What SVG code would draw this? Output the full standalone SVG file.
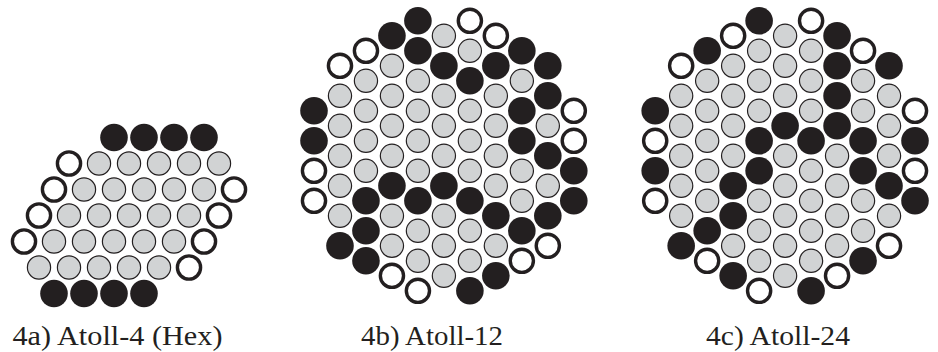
<svg xmlns="http://www.w3.org/2000/svg" xmlns:xlink="http://www.w3.org/1999/xlink" width="938" height="352" viewBox="0 0 938 352">
<style>
.b{fill:#231f20}
.g{fill:#d1d3d4;stroke:#231f20;stroke-width:1.2}
.h{fill:#ffffff;stroke:#231f20;stroke-width:3.4}
.lbl{font-family:"Liberation Serif","Times New Roman",serif;font-size:28px;fill:#231f20}
</style>
<defs>
<circle id="B" class="b" r="13.8"/>
<circle id="G" class="g" r="11.6"/>
<circle id="H" class="h" r="11.6"/>
</defs>
<rect width="938" height="352" fill="#ffffff"/>

<g id="atoll4">
<use href="#B" x="114" y="137.5"/><use href="#B" x="144" y="137.5"/><use href="#B" x="174" y="137.5"/><use href="#B" x="204" y="137.5"/>
<use href="#H" x="69" y="163.5"/><use href="#G" x="99" y="163.5"/><use href="#G" x="129" y="163.5"/><use href="#G" x="159" y="163.5"/><use href="#G" x="189" y="163.5"/><use href="#G" x="219" y="163.5"/>
<use href="#H" x="54" y="189.5"/><use href="#G" x="84" y="189.5"/><use href="#G" x="114" y="189.5"/><use href="#G" x="144" y="189.5"/><use href="#G" x="174" y="189.5"/><use href="#G" x="204" y="189.5"/><use href="#H" x="234" y="189.5"/>
<use href="#H" x="39" y="215.5"/><use href="#G" x="69" y="215.5"/><use href="#G" x="99" y="215.5"/><use href="#G" x="129" y="215.5"/><use href="#G" x="159" y="215.5"/><use href="#G" x="189" y="215.5"/><use href="#H" x="219" y="215.5"/>
<use href="#H" x="24" y="241.5"/><use href="#G" x="54" y="241.5"/><use href="#G" x="84" y="241.5"/><use href="#G" x="114" y="241.5"/><use href="#G" x="144" y="241.5"/><use href="#G" x="174" y="241.5"/><use href="#H" x="204" y="241.5"/>
<use href="#G" x="39" y="267.5"/><use href="#G" x="69" y="267.5"/><use href="#G" x="99" y="267.5"/><use href="#G" x="129" y="267.5"/><use href="#G" x="159" y="267.5"/><use href="#H" x="189" y="267.5"/>
<use href="#B" x="54" y="293.5"/><use href="#B" x="84" y="293.5"/><use href="#B" x="114" y="293.5"/><use href="#B" x="144" y="293.5"/>
</g>

<g id="atoll12" transform="translate(314 20.8)">
<use href="#B" x="0" y="90"/><use href="#B" x="0" y="120"/><use href="#H" x="0" y="150"/><use href="#H" x="0" y="180"/>
<use href="#H" x="25.98" y="45"/><use href="#G" x="25.98" y="75"/><use href="#G" x="25.98" y="105"/><use href="#G" x="25.98" y="135"/><use href="#G" x="25.98" y="165"/><use href="#G" x="25.98" y="195"/><use href="#B" x="25.98" y="225"/>
<use href="#H" x="51.96" y="30"/><use href="#G" x="51.96" y="60"/><use href="#G" x="51.96" y="90"/><use href="#G" x="51.96" y="120"/><use href="#G" x="51.96" y="150"/><use href="#B" x="51.96" y="180"/><use href="#B" x="51.96" y="210"/><use href="#B" x="51.96" y="240"/>
<use href="#B" x="77.94" y="15"/><use href="#G" x="77.94" y="45"/><use href="#G" x="77.94" y="75"/><use href="#G" x="77.94" y="105"/><use href="#G" x="77.94" y="135"/><use href="#B" x="77.94" y="165"/><use href="#G" x="77.94" y="195"/><use href="#G" x="77.94" y="225"/><use href="#H" x="77.94" y="255"/>
<use href="#B" x="103.92" y="0"/><use href="#B" x="103.92" y="30"/><use href="#G" x="103.92" y="60"/><use href="#G" x="103.92" y="90"/><use href="#G" x="103.92" y="120"/><use href="#G" x="103.92" y="150"/><use href="#B" x="103.92" y="180"/><use href="#G" x="103.92" y="210"/><use href="#G" x="103.92" y="240"/><use href="#H" x="103.92" y="270"/>
<use href="#G" x="129.9" y="15"/><use href="#B" x="129.9" y="45"/><use href="#G" x="129.9" y="75"/><use href="#G" x="129.9" y="105"/><use href="#G" x="129.9" y="135"/><use href="#B" x="129.9" y="165"/><use href="#G" x="129.9" y="195"/><use href="#G" x="129.9" y="225"/><use href="#G" x="129.9" y="255"/>
<use href="#H" x="155.88" y="0"/><use href="#G" x="155.88" y="30"/><use href="#B" x="155.88" y="60"/><use href="#G" x="155.88" y="90"/><use href="#G" x="155.88" y="120"/><use href="#G" x="155.88" y="150"/><use href="#B" x="155.88" y="180"/><use href="#G" x="155.88" y="210"/><use href="#G" x="155.88" y="240"/><use href="#B" x="155.88" y="270"/>
<use href="#H" x="181.86" y="15"/><use href="#B" x="181.86" y="45"/><use href="#G" x="181.86" y="75"/><use href="#G" x="181.86" y="105"/><use href="#G" x="181.86" y="135"/><use href="#G" x="181.86" y="165"/><use href="#B" x="181.86" y="195"/><use href="#G" x="181.86" y="225"/><use href="#B" x="181.86" y="255"/>
<use href="#B" x="207.84" y="30"/><use href="#G" x="207.84" y="60"/><use href="#B" x="207.84" y="90"/><use href="#B" x="207.84" y="120"/><use href="#G" x="207.84" y="150"/><use href="#G" x="207.84" y="180"/><use href="#B" x="207.84" y="210"/><use href="#H" x="207.84" y="240"/>
<use href="#B" x="233.82" y="45"/><use href="#B" x="233.82" y="75"/><use href="#G" x="233.82" y="105"/><use href="#B" x="233.82" y="135"/><use href="#G" x="233.82" y="165"/><use href="#B" x="233.82" y="195"/><use href="#H" x="233.82" y="225"/>
<use href="#H" x="259.8" y="90"/><use href="#H" x="259.8" y="120"/><use href="#B" x="259.8" y="150"/><use href="#B" x="259.8" y="180"/>
</g>

<g id="atoll24" transform="translate(655.2 20.8)">
<use href="#B" x="0" y="90"/><use href="#H" x="0" y="120"/><use href="#B" x="0" y="150"/><use href="#H" x="0" y="180"/>
<use href="#H" x="25.98" y="45"/><use href="#G" x="25.98" y="75"/><use href="#G" x="25.98" y="105"/><use href="#G" x="25.98" y="135"/><use href="#G" x="25.98" y="165"/><use href="#G" x="25.98" y="195"/><use href="#B" x="25.98" y="225"/>
<use href="#B" x="51.96" y="30"/><use href="#G" x="51.96" y="60"/><use href="#G" x="51.96" y="90"/><use href="#G" x="51.96" y="120"/><use href="#G" x="51.96" y="150"/><use href="#G" x="51.96" y="180"/><use href="#B" x="51.96" y="210"/><use href="#H" x="51.96" y="240"/>
<use href="#H" x="77.94" y="15"/><use href="#G" x="77.94" y="45"/><use href="#G" x="77.94" y="75"/><use href="#G" x="77.94" y="105"/><use href="#G" x="77.94" y="135"/><use href="#B" x="77.94" y="165"/><use href="#B" x="77.94" y="195"/><use href="#G" x="77.94" y="225"/><use href="#B" x="77.94" y="255"/>
<use href="#B" x="103.92" y="0"/><use href="#G" x="103.92" y="30"/><use href="#G" x="103.92" y="60"/><use href="#G" x="103.92" y="90"/><use href="#B" x="103.92" y="120"/><use href="#B" x="103.92" y="150"/><use href="#G" x="103.92" y="180"/><use href="#G" x="103.92" y="210"/><use href="#G" x="103.92" y="240"/><use href="#H" x="103.92" y="270"/>
<use href="#G" x="129.9" y="15"/><use href="#G" x="129.9" y="45"/><use href="#G" x="129.9" y="75"/><use href="#B" x="129.9" y="105"/><use href="#G" x="129.9" y="135"/><use href="#G" x="129.9" y="165"/><use href="#G" x="129.9" y="195"/><use href="#G" x="129.9" y="225"/><use href="#G" x="129.9" y="255"/>
<use href="#H" x="155.88" y="0"/><use href="#G" x="155.88" y="30"/><use href="#G" x="155.88" y="60"/><use href="#G" x="155.88" y="90"/><use href="#B" x="155.88" y="120"/><use href="#G" x="155.88" y="150"/><use href="#G" x="155.88" y="180"/><use href="#G" x="155.88" y="210"/><use href="#G" x="155.88" y="240"/><use href="#B" x="155.88" y="270"/>
<use href="#B" x="181.86" y="15"/><use href="#B" x="181.86" y="45"/><use href="#B" x="181.86" y="75"/><use href="#B" x="181.86" y="105"/><use href="#G" x="181.86" y="135"/><use href="#G" x="181.86" y="165"/><use href="#G" x="181.86" y="195"/><use href="#G" x="181.86" y="225"/><use href="#H" x="181.86" y="255"/>
<use href="#H" x="207.84" y="30"/><use href="#G" x="207.84" y="60"/><use href="#G" x="207.84" y="90"/><use href="#B" x="207.84" y="120"/><use href="#B" x="207.84" y="150"/><use href="#G" x="207.84" y="180"/><use href="#G" x="207.84" y="210"/><use href="#B" x="207.84" y="240"/>
<use href="#B" x="233.82" y="45"/><use href="#G" x="233.82" y="75"/><use href="#G" x="233.82" y="105"/><use href="#G" x="233.82" y="135"/><use href="#B" x="233.82" y="165"/><use href="#G" x="233.82" y="195"/><use href="#H" x="233.82" y="225"/>
<use href="#H" x="259.8" y="90"/><use href="#B" x="259.8" y="120"/><use href="#H" x="259.8" y="150"/><use href="#B" x="259.8" y="180"/>
</g>

<g id="labels">
<text class="lbl" x="12.5" y="345" textLength="210" lengthAdjust="spacingAndGlyphs">4a) Atoll-4 (Hex)</text>
<text class="lbl" x="361" y="345" textLength="142" lengthAdjust="spacingAndGlyphs">4b) Atoll-12</text>
<text class="lbl" x="706" y="345" textLength="144" lengthAdjust="spacingAndGlyphs">4c) Atoll-24</text>
</g>
</svg>
